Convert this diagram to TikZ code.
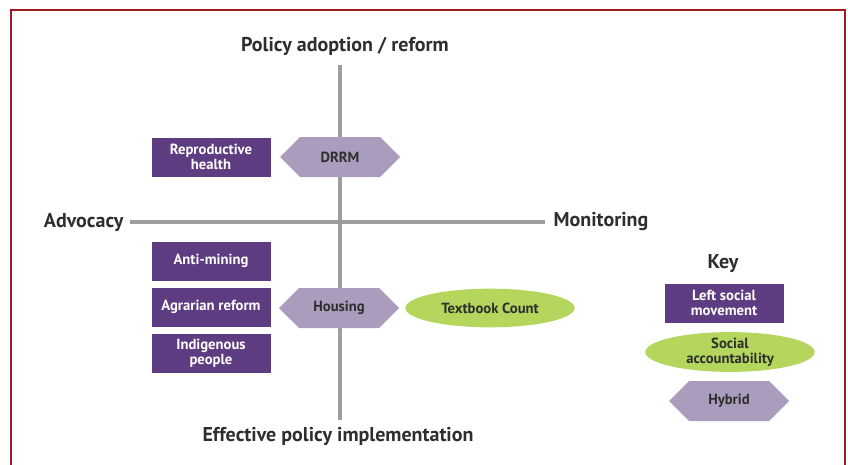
\documentclass[tikz,border=0pt]{standalone}
\usepackage{fontspec}
\setmainfont{PT Sans}
\usetikzlibrary{shapes.geometric,shapes.symbols}
\definecolor{frameRed}{HTML}{9E1B20}
\definecolor{axisGray}{HTML}{9D9D9D}
\definecolor{movePurple}{HTML}{5E3C82}
\definecolor{hybridLilac}{HTML}{A99CBC}
\definecolor{accGreen}{HTML}{B4D65C}
\definecolor{darkText}{HTML}{2E2E2E}
\begin{document}
\begin{tikzpicture}[x=0.75pt,y=-0.75pt]

    \tikzset{
      movement/.style={
        rectangle,
        fill=movePurple,
        draw=white,
        text=white,
        font=\fontsize{11}{11}\selectfont\bfseries,
        align=center,
        inner sep=0pt,
        minimum width=90pt,
        minimum height=30pt,
      },
      hybrid/.style={
        signal,
        signal to=west and east,
        signal pointer angle=90,
        fill=hybridLilac,
        text=darkText,
        font=\fontsize{11}{11}\selectfont\bfseries,
        inner sep=0pt,
        minimum width=90pt,
        minimum height=30pt,
      },
      account/.style={
        ellipse,
        fill=accGreen,
        text=darkText,
        font=\fontsize{11}{11}\selectfont\bfseries,
        align=center,
        inner sep=0pt,
        minimum width=127pt,
        minimum height=29pt,
      },
      axislabel/.style={
        font=\fontsize{15}{16}\selectfont\bfseries,
        text=darkText,
        inner sep=1pt,
      },
      axis/.style={
        draw=axisGray,
        line width=3.5pt,
      },
    }
    \useasboundingbox (0,0) rectangle (848,464);
    \draw[frameRed, line width=1.6pt] (11,475) -- (11,10) -- (845,10) -- (845,475);

	% axes
	\coordinate (vtop) at (340,65);
	\coordinate (vbot) at (340,420);
	\coordinate (hleft) at (130,222);
	\coordinate (hright) at (545,222);
	\draw[axis] (vtop) -- (vbot);
	\draw[axis] (hleft) -- (hright);

	\node[axislabel] (adopt) at (345,46) {Policy adoption / reform};
	\node[axislabel] (implement) at (338,436) {Effective policy implementation};
	\node[axislabel, anchor=east] (advocacy) at (125,222) {Advocacy};
	\node[axislabel, anchor=west] (monitoring) at (552,222) {Monitoring};

	% cases
	\node[movement] (reproductive) at (211,157) {Reproductive\\health};
	\node[hybrid] (drrm) at (340,157) {DRRM};
	\node[movement] (antimining) at (211,261) {Anti-mining};
	\node[movement] (agrarian) at (211,307) {Agrarian reform};
	\node[movement] (indigenous) at (211,353) {Indigenous\\people};
	\node[hybrid] (housing) at (339,308) {Housing};
	\node[account] (textbook) at (490,308) {Textbook Count};

	% key
	\node[axislabel] (key) at (723,264) {Key};
	\node[movement] (keymove) at (724,303) {Left social\\movement};
	\node[account] (keyacc) at (730,352) {Social\\accountability};
	\node[hybrid] (keyhyb) at (729,401) {Hybrid};

\end{tikzpicture}
\end{document}
